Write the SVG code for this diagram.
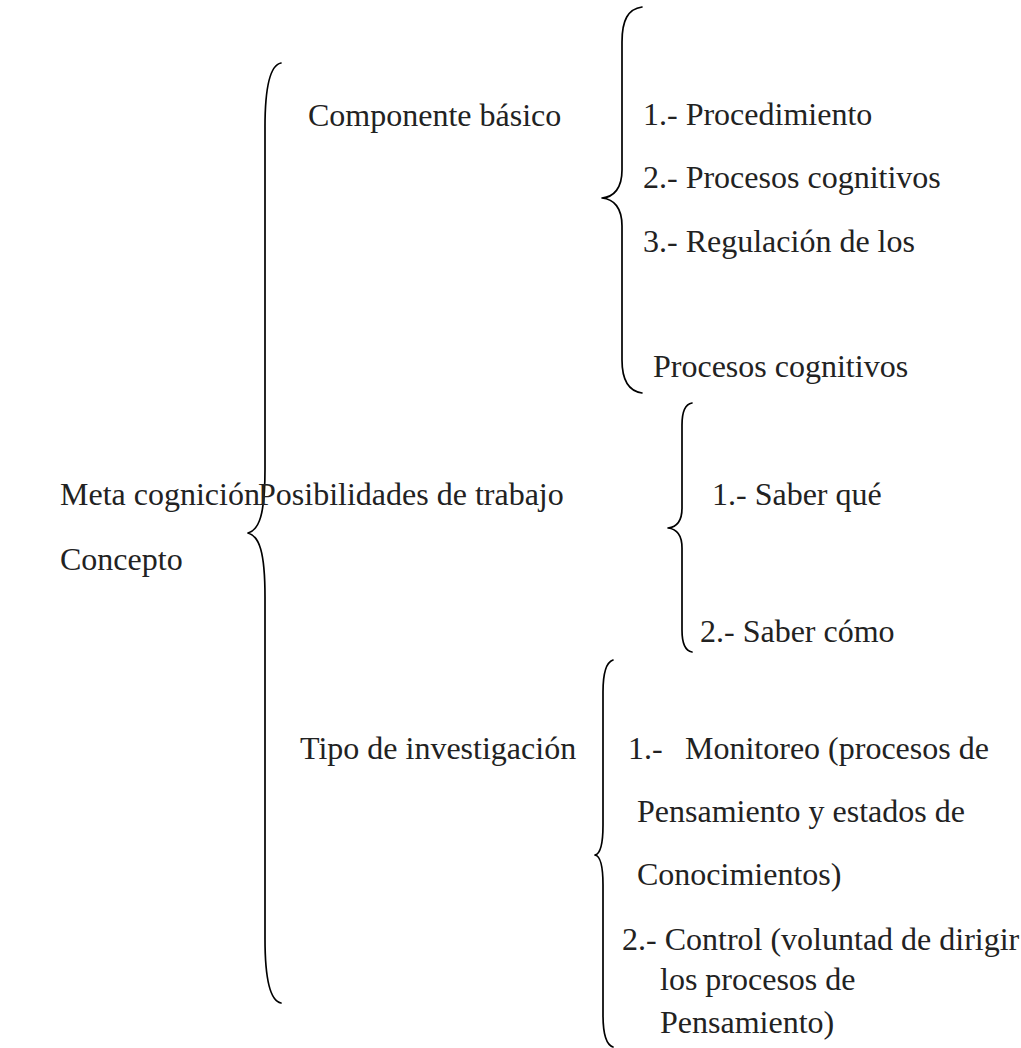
<svg xmlns="http://www.w3.org/2000/svg" width="1021" height="1048" viewBox="0 0 1021 1048">
<style>
text{font-family:"Liberation Serif","Times New Roman",serif;font-size:32px;fill:#222}
.brace{fill:none;stroke:#000;stroke-width:1.7;stroke-linecap:round;stroke-linejoin:round}
</style>
<rect width="1021" height="1048" fill="#fff"/>
<g id="connectors">
<path class="brace" d="M281,63 C271,65 265,85 265,127 L265,469 C265,515 259,530 248,533 C259,536 265,551 265,597 L265,939 C265,981 271,1001 281,1003"/>
<path class="brace" d="M642,7 C628,9 622,20 622,42 L622,170 C622,188 614,197 602,198 C614,199 622,208 622,226 L622,360 C622,380 628,391 642,393"/>
<path class="brace" d="M692,403 C686,404 682,410 682,425 L682,508 C682,521 677,527 668,528 C677,529 682,535 682,548 L682,630 C682,645 686,651 692,652"/>
<path class="brace" d="M613,660 C607,662 603,672 603,692 L603,825 C603,846 600,854 595,855 C600,856 603,864 603,885 L603,1015 C603,1035 607,1045 613,1047"/>
</g>
<g id="root"><text x="60" y="505">Meta cognición</text><text x="60" y="570">Concepto</text></g>
<g id="componente"><text x="308" y="126">Componente básico</text></g>
<g id="posibilidades"><text x="258" y="505">Posibilidades de trabajo</text></g>
<g id="tipo"><text x="300" y="759">Tipo de investigación</text></g>
<g id="componente-items">
<text x="643" y="125">1.- Procedimiento</text>
<text x="643" y="188">2.- Procesos cognitivos</text>
<text x="643" y="252">3.- Regulación de los</text>
<text x="653" y="377">Procesos cognitivos</text>
</g>
<g id="posibilidades-items">
<text x="712" y="505">1.- Saber qué</text>
<text x="700" y="642">2.- Saber cómo</text>
</g>
<g id="tipo-items">
<text x="628" y="759">1.-</text><text x="685" y="759">Monitoreo (procesos de</text>
<text x="637" y="822">Pensamiento y estados de</text>
<text x="637" y="885">Conocimientos)</text>
<text x="622" y="950">2.- Control (voluntad de dirigir</text>
<text x="660" y="990">los procesos de</text>
<text x="660" y="1033">Pensamiento)</text>
</g>
</svg>
